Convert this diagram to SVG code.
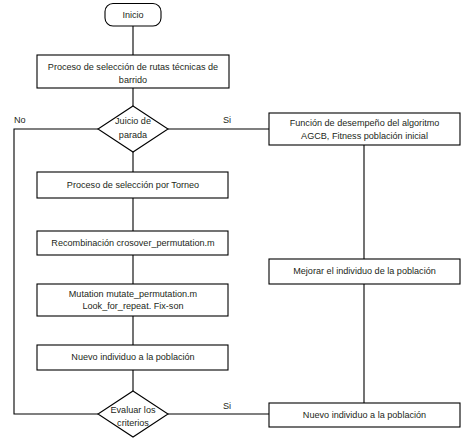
<svg xmlns="http://www.w3.org/2000/svg" width="469" height="445" viewBox="0 0 469 445">
<style>
.n{fill:#fff;stroke:#000;stroke-width:1.1}
.c{fill:none;stroke:#000;stroke-width:1.1}
text{font-family:"Liberation Sans",Arial,sans-serif;font-size:9.1px;fill:#231f20;text-anchor:middle}
.l{text-anchor:start}
</style>
<rect width="469" height="445" fill="#fff"/>
<g id="connectors">
<path class="c" d="M133 26V55M133 88V106M133 152V172M133 198V231M133 255V284M133 316V345M133 370V391"/>
<path class="c" d="M98 129H14V414H98"/>
<path class="c" d="M168 129H269M168 414H269"/>
<path class="c" d="M364 145V259M364 284V403"/>
</g>
<g id="inicio"><rect class="n" x="105" y="3.5" width="56" height="22.5" rx="8"/><text x="133" y="18">Inicio</text></g>
<g id="rutas"><rect class="n" x="37" y="55" width="192" height="33"/><text x="133" y="70">Proceso de selección de rutas técnicas de</text><text x="133" y="83">barrido</text></g>
<g id="juicio"><polygon class="n" points="133,106 168,129 133,152 98,129"/><text x="133" y="124">Juicio de</text><text x="133" y="138">parada</text></g>
<text class="l" x="14" y="123">No</text>
<text class="l" x="223" y="123">Si</text>
<g id="torneo"><rect class="n" x="37" y="172" width="191" height="26"/><text x="133" y="188">Proceso de selección por Torneo</text></g>
<g id="recomb"><rect class="n" x="37" y="231" width="191" height="24"/><text x="133" y="246">Recombinación crosover_permutation.m</text></g>
<g id="mutation"><rect class="n" x="37" y="284" width="191" height="32"/><text x="133" y="297">Mutation mutate_permutation.m</text><text x="133" y="309">Look_for_repeat. Fix-son</text></g>
<g id="nuevo1"><rect class="n" x="37" y="345" width="191" height="25"/><text x="133" y="360">Nuevo individuo a la población</text></g>
<g id="evaluar"><polygon class="n" points="133,391 168,414 133,437 98,414"/><text x="133" y="413">Evaluar los</text><text x="133" y="426">criterios</text></g>
<text class="l" x="223" y="409">Si</text>
<g id="funcion"><rect class="n" x="269" y="113" width="191" height="32"/><text x="364.5" y="126">Función de desempeño del algoritmo</text><text x="364.5" y="139">AGCB, Fitness población inicial</text></g>
<g id="mejorar"><rect class="n" x="269" y="259" width="191" height="25"/><text x="364.5" y="274">Mejorar el individuo de la población</text></g>
<g id="nuevo2"><rect class="n" x="269" y="403" width="191" height="24"/><text x="364.5" y="418">Nuevo individuo a la población</text></g>
</svg>
